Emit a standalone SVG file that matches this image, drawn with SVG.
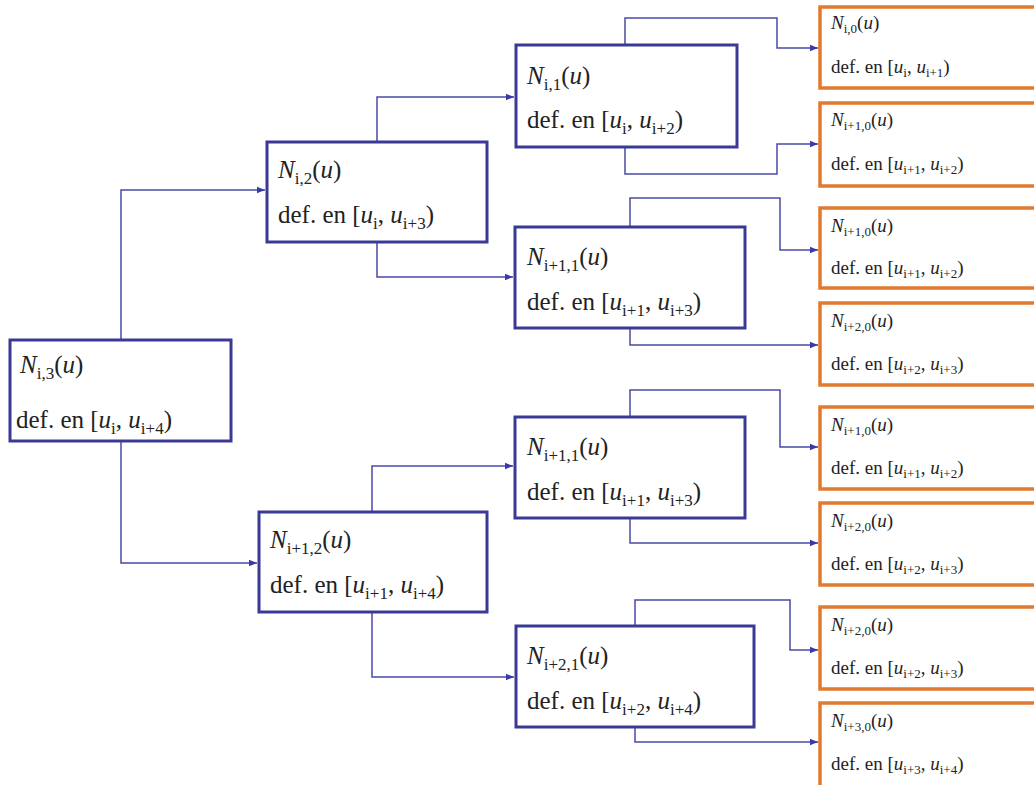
<svg xmlns="http://www.w3.org/2000/svg" width="1034" height="785" viewBox="0 0 1034 785">
<style>
.bn{fill:#ffffff;stroke:#3a3a96;stroke-width:3}
.on{fill:#ffffff;stroke:#e07a2e;stroke-width:3.5}
text{font-family:"Liberation Serif","Tinos","Nimbus Roman","FreeSerif","DejaVu Serif","Noto Serif",serif;fill:#222}
.t{font-size:25px}
.ts{font-size:19px}
.i{font-style:italic}
.c{fill:none;stroke:#4a4aa8;stroke-width:1.5}
</style>
<defs>
<marker id="ar" viewBox="0 0 10 10" refX="10" refY="5" markerWidth="8" markerHeight="8" orient="auto" markerUnits="userSpaceOnUse">
<path d="M0,1 L10,5 L0,9 z" fill="#3a3aa8"/>
</marker>
</defs>
<rect width="1034" height="785" fill="#ffffff"/>
<g id="connectors">
<path class="c" d="M121,340 V190 H265" marker-end="url(#ar)"/>
<path class="c" d="M121,441 V563 H257" marker-end="url(#ar)"/>
<path class="c" d="M377,142 V97 H514" marker-end="url(#ar)"/>
<path class="c" d="M377,242 V277 H513" marker-end="url(#ar)"/>
<path class="c" d="M372,512 V466 H513" marker-end="url(#ar)"/>
<path class="c" d="M372,612 V677 H514" marker-end="url(#ar)"/>
<path class="c" d="M625,45 V18 H777 V48 H818" marker-end="url(#ar)"/>
<path class="c" d="M625,147 V174 H777 V144 H818" marker-end="url(#ar)"/>
<path class="c" d="M630,227 V198 H780 V250 H818" marker-end="url(#ar)"/>
<path class="c" d="M630,328 V345 H818" marker-end="url(#ar)"/>
<path class="c" d="M630,417 V390 H780 V447 H818" marker-end="url(#ar)"/>
<path class="c" d="M630,518 V543 H818" marker-end="url(#ar)"/>
<path class="c" d="M635,626 V600 H790 V650 H818" marker-end="url(#ar)"/>
<path class="c" d="M635,727 V742 H818" marker-end="url(#ar)"/>
</g>
<g id="n_i3">
<rect class="bn" x="10" y="340" width="221" height="101"/>
<text class="t" x="20" y="373"><tspan class="i">N</tspan><tspan font-size="17" dy="6">i,3</tspan><tspan dy="-6">(</tspan><tspan class="i">u</tspan>)</text>
<text class="t" x="16" y="428">def. en [<tspan class="i">u</tspan><tspan font-size="17" dy="6">i</tspan><tspan dy="-6">, </tspan><tspan class="i">u</tspan><tspan font-size="17" dy="6">i+4</tspan><tspan dy="-6">)</tspan></text>
</g>
<g id="n_i2">
<rect class="bn" x="267" y="142" width="220" height="100"/>
<text class="t" x="278" y="178"><tspan class="i">N</tspan><tspan font-size="17" dy="6">i,2</tspan><tspan dy="-6">(</tspan><tspan class="i">u</tspan>)</text>
<text class="t" x="278" y="223">def. en [<tspan class="i">u</tspan><tspan font-size="17" dy="6">i</tspan><tspan dy="-6">, </tspan><tspan class="i">u</tspan><tspan font-size="17" dy="6">i+3</tspan><tspan dy="-6">)</tspan></text>
</g>
<g id="n_i1_2">
<rect class="bn" x="259" y="512" width="228" height="100"/>
<text class="t" x="270" y="548"><tspan class="i">N</tspan><tspan font-size="17" dy="6">i+1,2</tspan><tspan dy="-6">(</tspan><tspan class="i">u</tspan>)</text>
<text class="t" x="270" y="593">def. en [<tspan class="i">u</tspan><tspan font-size="17" dy="6">i+1</tspan><tspan dy="-6">, </tspan><tspan class="i">u</tspan><tspan font-size="17" dy="6">i+4</tspan><tspan dy="-6">)</tspan></text>
</g>
<g id="n_i1">
<rect class="bn" x="516" y="45" width="221" height="102"/>
<text class="t" x="527" y="84"><tspan class="i">N</tspan><tspan font-size="17" dy="6">i,1</tspan><tspan dy="-6">(</tspan><tspan class="i">u</tspan>)</text>
<text class="t" x="527" y="128">def. en [<tspan class="i">u</tspan><tspan font-size="17" dy="6">i</tspan><tspan dy="-6">, </tspan><tspan class="i">u</tspan><tspan font-size="17" dy="6">i+2</tspan><tspan dy="-6">)</tspan></text>
</g>
<g id="n_i1_1a">
<rect class="bn" x="515" y="227" width="230" height="101"/>
<text class="t" x="527" y="265"><tspan class="i">N</tspan><tspan font-size="17" dy="6">i+1,1</tspan><tspan dy="-6">(</tspan><tspan class="i">u</tspan>)</text>
<text class="t" x="527" y="310">def. en [<tspan class="i">u</tspan><tspan font-size="17" dy="6">i+1</tspan><tspan dy="-6">, </tspan><tspan class="i">u</tspan><tspan font-size="17" dy="6">i+3</tspan><tspan dy="-6">)</tspan></text>
</g>
<g id="n_i1_1b">
<rect class="bn" x="515" y="417" width="230" height="101"/>
<text class="t" x="527" y="455"><tspan class="i">N</tspan><tspan font-size="17" dy="6">i+1,1</tspan><tspan dy="-6">(</tspan><tspan class="i">u</tspan>)</text>
<text class="t" x="527" y="500">def. en [<tspan class="i">u</tspan><tspan font-size="17" dy="6">i+1</tspan><tspan dy="-6">, </tspan><tspan class="i">u</tspan><tspan font-size="17" dy="6">i+3</tspan><tspan dy="-6">)</tspan></text>
</g>
<g id="n_i2_1">
<rect class="bn" x="516" y="626" width="238" height="101"/>
<text class="t" x="527" y="664"><tspan class="i">N</tspan><tspan font-size="17" dy="6">i+2,1</tspan><tspan dy="-6">(</tspan><tspan class="i">u</tspan>)</text>
<text class="t" x="527" y="709">def. en [<tspan class="i">u</tspan><tspan font-size="17" dy="6">i+2</tspan><tspan dy="-6">, </tspan><tspan class="i">u</tspan><tspan font-size="17" dy="6">i+4</tspan><tspan dy="-6">)</tspan></text>
</g>
<g id="leaf1">
<rect class="on" x="820" y="7" width="230" height="81"/>
<text class="ts" x="831" y="29"><tspan class="i">N</tspan><tspan font-size="13" dy="4">i,0</tspan><tspan dy="-4">(</tspan><tspan class="i">u</tspan>)</text>
<text class="ts" x="831" y="73">def. en [<tspan class="i">u</tspan><tspan font-size="13" dy="4">i</tspan><tspan dy="-4">, </tspan><tspan class="i">u</tspan><tspan font-size="13" dy="4">i+1</tspan><tspan dy="-4">)</tspan></text>
</g>
<g id="leaf2">
<rect class="on" x="820" y="103" width="230" height="83"/>
<text class="ts" x="831" y="126"><tspan class="i">N</tspan><tspan font-size="13" dy="4">i+1,0</tspan><tspan dy="-4">(</tspan><tspan class="i">u</tspan>)</text>
<text class="ts" x="831" y="170">def. en [<tspan class="i">u</tspan><tspan font-size="13" dy="4">i+1</tspan><tspan dy="-4">, </tspan><tspan class="i">u</tspan><tspan font-size="13" dy="4">i+2</tspan><tspan dy="-4">)</tspan></text>
</g>
<g id="leaf3">
<rect class="on" x="820" y="208" width="230" height="80"/>
<text class="ts" x="831" y="232"><tspan class="i">N</tspan><tspan font-size="13" dy="4">i+1,0</tspan><tspan dy="-4">(</tspan><tspan class="i">u</tspan>)</text>
<text class="ts" x="831" y="274">def. en [<tspan class="i">u</tspan><tspan font-size="13" dy="4">i+1</tspan><tspan dy="-4">, </tspan><tspan class="i">u</tspan><tspan font-size="13" dy="4">i+2</tspan><tspan dy="-4">)</tspan></text>
</g>
<g id="leaf4">
<rect class="on" x="820" y="303" width="230" height="82"/>
<text class="ts" x="831" y="327"><tspan class="i">N</tspan><tspan font-size="13" dy="4">i+2,0</tspan><tspan dy="-4">(</tspan><tspan class="i">u</tspan>)</text>
<text class="ts" x="831" y="370">def. en [<tspan class="i">u</tspan><tspan font-size="13" dy="4">i+2</tspan><tspan dy="-4">, </tspan><tspan class="i">u</tspan><tspan font-size="13" dy="4">i+3</tspan><tspan dy="-4">)</tspan></text>
</g>
<g id="leaf5">
<rect class="on" x="820" y="407" width="230" height="82"/>
<text class="ts" x="831" y="431"><tspan class="i">N</tspan><tspan font-size="13" dy="4">i+1,0</tspan><tspan dy="-4">(</tspan><tspan class="i">u</tspan>)</text>
<text class="ts" x="831" y="474">def. en [<tspan class="i">u</tspan><tspan font-size="13" dy="4">i+1</tspan><tspan dy="-4">, </tspan><tspan class="i">u</tspan><tspan font-size="13" dy="4">i+2</tspan><tspan dy="-4">)</tspan></text>
</g>
<g id="leaf6">
<rect class="on" x="820" y="503" width="230" height="82"/>
<text class="ts" x="831" y="527"><tspan class="i">N</tspan><tspan font-size="13" dy="4">i+2,0</tspan><tspan dy="-4">(</tspan><tspan class="i">u</tspan>)</text>
<text class="ts" x="831" y="570">def. en [<tspan class="i">u</tspan><tspan font-size="13" dy="4">i+2</tspan><tspan dy="-4">, </tspan><tspan class="i">u</tspan><tspan font-size="13" dy="4">i+3</tspan><tspan dy="-4">)</tspan></text>
</g>
<g id="leaf7">
<rect class="on" x="820" y="607" width="230" height="82"/>
<text class="ts" x="831" y="631"><tspan class="i">N</tspan><tspan font-size="13" dy="4">i+2,0</tspan><tspan dy="-4">(</tspan><tspan class="i">u</tspan>)</text>
<text class="ts" x="831" y="674">def. en [<tspan class="i">u</tspan><tspan font-size="13" dy="4">i+2</tspan><tspan dy="-4">, </tspan><tspan class="i">u</tspan><tspan font-size="13" dy="4">i+3</tspan><tspan dy="-4">)</tspan></text>
</g>
<g id="leaf8">
<rect class="on" x="820" y="703" width="230" height="90"/>
<text class="ts" x="831" y="727"><tspan class="i">N</tspan><tspan font-size="13" dy="4">i+3,0</tspan><tspan dy="-4">(</tspan><tspan class="i">u</tspan>)</text>
<text class="ts" x="831" y="770">def. en [<tspan class="i">u</tspan><tspan font-size="13" dy="4">i+3</tspan><tspan dy="-4">, </tspan><tspan class="i">u</tspan><tspan font-size="13" dy="4">i+4</tspan><tspan dy="-4">)</tspan></text>
</g>
</svg>
